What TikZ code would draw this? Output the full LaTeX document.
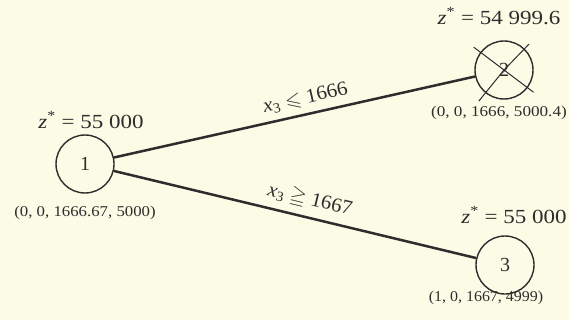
\documentclass[tikz,border=0pt]{standalone}
\usepackage{amssymb}
\usepackage{fontspec}
\setmainfont{Liberation Serif}
\definecolor{paper}{RGB}{252,251,230}
\definecolor{ink}{RGB}{45,45,45}
\tikzset{
  treenode/.style={circle,draw=ink,line width=1.4pt,minimum size=58pt,inner sep=0pt,font=\fontsize{20}{20}\selectfont,text=ink},
  branch/.style={draw=ink,line width=2.5pt},
  zlab/.style={font=\fontsize{20}{20}\selectfont,text=ink,inner sep=0pt,xscale=1.15,transform shape},
  solab/.style={font=\fontsize{15}{15}\selectfont,text=ink,inner sep=0pt,xscale=1.12,transform shape},
  edgelab/.style={font=\fontsize{20}{20}\selectfont,text=ink,sloped,above,inner sep=6pt,xscale=1.05,transform shape},
  crossline/.style={draw=ink,line width=1pt}
}
\begin{document}
\begin{tikzpicture}[x=1pt,y=-1pt]
\useasboundingbox (0,0) rectangle (569,320);
\fill[paper] (0,0) rectangle (569,320);
\node[treenode] (n1) at (85,164) {1};
\node[treenode] (n2) at (504,70) {2};
\node[treenode] (n3) at (505,265) {3};
\draw[branch] (n1) -- node[edgelab,pos=0.54] (e1) {\textit{x}\textsubscript{3} $\leqslant$ 1666} (n2);
\draw[branch] (n1) -- node[edgelab,pos=0.53] (e2) {\textit{x}\textsubscript{3} $\geqq$ 1667} (n3);
\draw[crossline] (n2.center) -- ++(217:38) coordinate (c1);
\draw[crossline] (n2.center) -- ++(37:37) coordinate (c2);
\draw[crossline] (n2.center) -- ++(314:36) coordinate (c3);
\draw[crossline] (n2.center) -- ++(129:40) coordinate (c4);
\node[zlab] (z1) at (91,120) {\textit{z}\textsuperscript{*} = 55 000};
\node[zlab] (z2) at (499,16) {\textit{z}\textsuperscript{*} = 54 999.6};
\node[zlab] (z3) at (514,215) {\textit{z}\textsuperscript{*} = 55 000};
\node[solab] (s1) at (85,213) {(0, 0, 1666.67, 5000)};
\node[solab,anchor=east,xscale=1.02] (s2) at (567,113) {(0, 0, 1666, 5000.4)};
\node[solab,xscale=0.95] (s3) at (486,298) {(1, 0, 1667, 4999)};
\end{tikzpicture}
\end{document}
